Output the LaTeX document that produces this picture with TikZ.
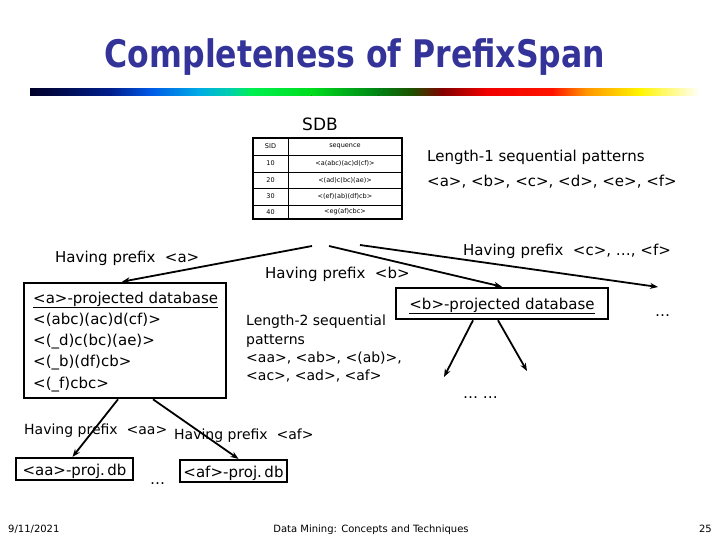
\documentclass[tikz,border=0pt]{standalone}
\usepackage{fontspec}
\setmainfont{DejaVu Sans}
\usetikzlibrary{arrows.meta,calc}
\definecolor{titleblue}{RGB}{51,51,153}
\definecolor{g0}{RGB}{0,0,40}
\definecolor{g1}{RGB}{0,30,140}
\definecolor{g2}{RGB}{0,90,230}
\definecolor{g3}{RGB}{0,170,230}
\definecolor{g4}{RGB}{0,210,170}
\definecolor{g5}{RGB}{0,240,80}
\definecolor{g6}{RGB}{0,220,30}
\definecolor{g7}{RGB}{0,130,20}
\definecolor{g8}{RGB}{30,80,0}
\definecolor{g9}{RGB}{130,0,0}
\definecolor{g10}{RGB}{240,0,0}
\definecolor{g11}{RGB}{255,20,0}
\definecolor{g12}{RGB}{255,150,0}
\definecolor{g13}{RGB}{255,245,0}
\definecolor{g14}{RGB}{255,255,255}
\tikzset{
  txt/.style={inner sep=0pt, anchor=base west, font=\fontsize{15}{18}\selectfont},
  lighttxt/.style={inner sep=0pt, anchor=base west, font=\fontsize{14}{17}\selectfont},
  cell/.style={inner sep=0pt, font=\fontsize{6.5}{8}\selectfont},
  box/.style={draw, line width=2.6pt, inner sep=0pt},
  arr/.style={line width=1.8pt, -{Stealth[length=8pt,width=6pt]}},
  foot/.style={inner sep=0pt, anchor=base, font=\fontsize{10}{12}\selectfont},
}
\newcommand{\gseg}[4]{\fill[left color=#3,right color=#4] (#1,89) rectangle (#2+0.4,96);}
\begin{document}
\begin{tikzpicture}[x=1pt,y=-1pt]
\useasboundingbox (0,0) rectangle (720,540);
% title
\node[inner sep=0pt, anchor=base, text=titleblue, font=\fontsize{38}{40}\selectfont\bfseries] (title) at (355,68) {\scalebox{0.83}[1]{Completeness of PrefixSpan}};
% gradient bar
\gseg{30}{110.4}{g0}{g1}
\gseg{110.4}{150.6}{g1}{g2}
\gseg{150.6}{197.5}{g2}{g3}
\gseg{197.5}{231}{g3}{g4}
\gseg{231}{251.1}{g4}{g5}
\gseg{251.1}{311.4}{g5}{g6}
\gseg{311.4}{378.4}{g6}{g7}
\gseg{378.4}{411.9}{g7}{g8}
\gseg{411.9}{442}{g8}{g9}
\gseg{442}{485.6}{g9}{g10}
\gseg{485.6}{552.6}{g10}{g11}
\gseg{552.6}{586.1}{g11}{g12}
\gseg{586.1}{639.7}{g12}{g13}
\fill[left color=g13,right color=g14] (639.7,89) rectangle (700,96);
% SDB
\node[inner sep=0pt, anchor=base, font=\fontsize{17}{20}\selectfont] (sdb) at (320,131) {SDB};
% table
\draw[line width=0.6pt] (253,155) -- (402,155) (253,172) -- (402,172) (253,188) -- (402,188) (253,205) -- (402,205) (288,138) -- (288,219);
\draw[line width=2pt] (253,138) rectangle (402,219);
\node[cell] (h1) at (270.5,146.5) {SID};
\node[cell] (h2) at (345,146.5) {sequence};
\node[cell] (r1a) at (270.5,163.5) {10};
\node[cell] (r1b) at (345,163.5) {<a(abc)(ac)d(cf)>};
\node[cell] (r2a) at (270.5,180) {20};
\node[cell] (r2b) at (345,180) {<(ad)c(bc)(ae)>};
\node[cell] (r3a) at (270.5,196.5) {30};
\node[cell] (r3b) at (345,196.5) {<(ef)(ab)(df)cb>};
\node[cell] (r4a) at (270.5,212) {40};
\node[cell] (r4b) at (345,212) {<eg(af)cbc>};
% length-1
\node[txt] (l1a) at (427,162) {Length-1 sequential patterns};
\node[txt] (l1b) at (427,187) {<a>, <b>, <c>, <d>, <e>, <f>};
% prefix labels
\node[txt] (pa) at (55,262) {Having prefix\ \ <a>};
\node[txt] (pb) at (265,278) {Having prefix\ \ <b>};
\node[txt] (pc) at (463,255) {Having prefix\ \ <c>, …, <f>};
% a-projected database
\node[box, minimum width=202pt, minimum height=115pt] (abox) at (125,340.5) {};
\node[txt] (a0) at (33,303) {\underline{<a>-projected database}};
\node[txt] (a1) at (33,324) {<(abc)(ac)d(cf)>};
\node[txt] (a2) at (33,345) {<(\_d)c(bc)(ae)>};
\node[txt] (a3) at (33,366) {<(\_b)(df)cb>};
\node[txt] (a4) at (33,388) {<(\_f)cbc>};
% b-projected database
\node[box, minimum width=212pt, minimum height=31pt] (bbox) at (502,303.5) {};
\node[txt, anchor=base] (b0) at (502,309) {\underline{<b>-projected database}};
\node[txt] (dotsc) at (655,316) {…};
\node[txt] (dotsb) at (463,398) {… …};
% length-2
\node[lighttxt] (l2a) at (246,325) {Length-2 sequential};
\node[lighttxt] (l2b) at (246,344) {patterns};
\node[lighttxt] (l2c) at (246,362) {<aa>, <ab>, <(ab)>,};
\node[lighttxt] (l2d) at (246,380) {<ac>, <ad>, <af>};
% second level
\node[lighttxt] (paa) at (24,434) {Having prefix\ \ <aa>};
\node[lighttxt] (paf) at (174,439) {Having prefix\ \ <af>};
\node[box, line width=2.2pt, minimum width=117pt, minimum height=22pt] (aabox) at (74.5,469) {};
\node[txt, anchor=base] (aat) at (74.5,475) {\underline{<aa>-proj.\,db}};
\node[txt] (dotsa) at (150,484) {…};
\node[box, line width=2.2pt, minimum width=107pt, minimum height=22pt] (afbox) at (233.5,471) {};
\node[txt, anchor=base] (aft) at (233.5,477) {\underline{<af>-proj.\,db}};
% arrows
\coordinate (s1) at (312,246);
\coordinate (s2) at (329,246);
\coordinate (s3) at (360,245);
\coordinate (e3) at (658,287);
\coordinate (e4) at (444,377);
\coordinate (e5) at (527,371);
\draw[arr] (s1) -- ([xshift=-3pt]abox.north);
\draw[arr] (s2) -- (bbox.north);
\draw[arr] (s3) -- (e3);
\draw[arr] ([xshift=-29pt]bbox.south) -- (e4);
\draw[arr] ([xshift=-4pt]bbox.south) -- (e5);
\draw[arr] ([xshift=-7pt]abox.south) -- ([xshift=-2pt]aabox.north);
\draw[arr] ([xshift=28pt]abox.south) -- ([xshift=5pt]afbox.north);
% footer
\node[foot, anchor=base west] (date) at (8,532) {9/11/2021};
\node[foot] (course) at (371,532) {Data Mining: Concepts and Techniques};
\node[foot, anchor=base east] (page) at (712,532) {25};
\end{tikzpicture}
\end{document}
